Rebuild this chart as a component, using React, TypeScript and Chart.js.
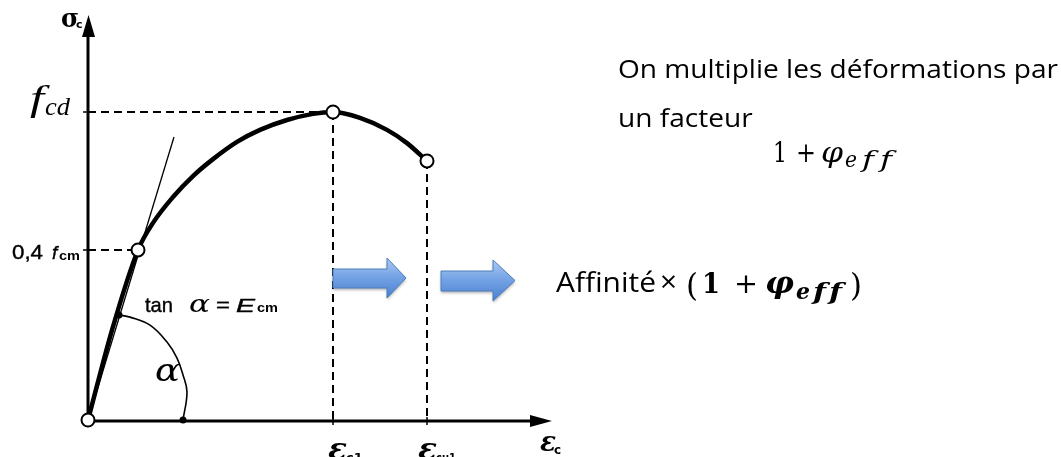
import React, { useEffect, useRef } from "react";
import { Chart, registerables } from "chart.js";

Chart.register(...registerables);

// ---- data (strain in arbitrary units, stress normalised to f_cd = 1) ----
const CURVE_STRAIN = [0, 0.24, 0.5, 0.65, 0.85, 1.05, 1.25, 1.49, 1.72, 1.99, 2.25, 2.45, 2.72, 2.99, 3.19, 3.39];
const CURVE_STRESS = [0, 0.292, 0.552, 0.64, 0.724, 0.792, 0.847, 0.903, 0.942, 0.974, 0.994, 1.0, 0.981, 0.942, 0.899, 0.841];

const TANGENT_STRAIN = [0, 0.86];
const TANGENT_STRESS = [0, 0.919];

const ARC_STRAIN = [0.31, 0.42, 0.62, 0.79, 0.89, 0.95, 0.99, 0.95];
const ARC_STRESS = [0.341, 0.334, 0.308, 0.253, 0.201, 0.146, 0.091, 0];

// key points: origin, 0.4 fcm, (εc1, fcd), (εcu1, σu)
const KEY_STRAIN = [0, 0.5, 2.45, 3.39];
const KEY_STRESS = [0, 0.552, 1.0, 0.841];

// small black dots: on tangent, on strain axis
const DOT_STRAIN = [0.31, 0.95];
const DOT_STRESS = [0.341, 0];

const X_AXIS_END = 4.64;
const Y_AXIS_TOP = 1.315;

const pts = (xs: number[], ys: number[]) => xs.map((x, i) => ({ x, y: ys[i] }));

function txt(ctx: CanvasRenderingContext2D, s: string, x: number, y: number, font: string, w?: number, bold?: number) {
  ctx.font = font;
  ctx.save();
  ctx.translate(x, y);
  if (w) {
    const m = ctx.measureText(s).width;
    ctx.scale(w / m, 1);
  }
  ctx.fillText(s, 0, 0);
  if (bold) {
    ctx.lineWidth = bold;
    ctx.strokeStyle = ctx.fillStyle as string;
    ctx.strokeText(s, 0, 0);
  }
  ctx.restore();
}

function blueArrow(ctx: CanvasRenderingContext2D, x0: number, bTop: number, bBot: number, xh: number, hTop: number, hBot: number, xt: number) {
  ctx.save();
  ctx.beginPath();
  ctx.moveTo(x0, bTop);
  ctx.lineTo(xh, bTop);
  ctx.lineTo(xh, hTop);
  ctx.lineTo(xt, (hTop + hBot) / 2);
  ctx.lineTo(xh, hBot);
  ctx.lineTo(xh, bBot);
  ctx.lineTo(x0, bBot);
  ctx.closePath();
  const g = ctx.createLinearGradient(0, hTop, 0, hBot);
  g.addColorStop(0, "#aecaf2");
  g.addColorStop(0.45, "#76a4e6");
  g.addColorStop(1, "#4a80d0");
  ctx.shadowColor = "rgba(0,0,0,0.3)";
  ctx.shadowBlur = 3;
  ctx.shadowOffsetY = 2;
  ctx.fillStyle = g;
  ctx.fill();
  ctx.shadowColor = "transparent";
  ctx.strokeStyle = "#4a7ebb";
  ctx.lineWidth = 1;
  ctx.stroke();
  ctx.restore();
}

const annot = {
  id: "annot",
  beforeDatasetsDraw(chart: any) {
    const { ctx, scales } = chart;
    const X = (v: number) => scales.x.getPixelForValue(v);
    const Y = (v: number) => scales.y.getPixelForValue(v);
    ctx.save();
    ctx.strokeStyle = "#000";
    ctx.fillStyle = "#000";
    ctx.lineWidth = 3;
    const x0 = X(0);
    const yTop = Y(Y_AXIS_TOP);
    ctx.beginPath();
    ctx.moveTo(x0, Y(0) + 2);
    ctx.lineTo(x0, yTop + 18);
    ctx.stroke();
    ctx.beginPath();
    ctx.moveTo(x0 + 0.5, yTop);
    ctx.lineTo(x0 - 6, yTop + 22);
    ctx.lineTo(x0 + 7, yTop + 22);
    ctx.closePath();
    ctx.fill();
    const ya = Y(0) + 1;
    const xEnd = X(X_AXIS_END);
    ctx.beginPath();
    ctx.moveTo(x0, ya);
    ctx.lineTo(xEnd - 18, ya);
    ctx.stroke();
    ctx.beginPath();
    ctx.moveTo(xEnd, ya);
    ctx.lineTo(xEnd - 22, ya - 6);
    ctx.lineTo(xEnd - 22, ya + 6);
    ctx.closePath();
    ctx.fill();
    ctx.lineWidth = 1.5;
    [KEY_STRESS[2], KEY_STRESS[1]].forEach((v) => {
      ctx.beginPath();
      ctx.moveTo(x0 - 5, Y(v));
      ctx.lineTo(x0, Y(v));
      ctx.stroke();
    });
    [KEY_STRAIN[2], KEY_STRAIN[3]].forEach((v) => {
      ctx.beginPath();
      ctx.moveTo(X(v), ya - 4);
      ctx.lineTo(X(v), ya + 4);
      ctx.stroke();
    });
    ctx.restore();
  },
  afterDatasetsDraw(chart: any) {
    const { ctx } = chart;
    ctx.save();
    blueArrow(ctx, 333, 269, 288, 387, 258, 298, 406);
    blueArrow(ctx, 441, 271, 291, 493, 260, 301, 515);

    ctx.fillStyle = "#000";
    ctx.textBaseline = "alphabetic";
    // scanned-diagram labels
    txt(ctx, "σ", 61, 27, 'bold 26px "DejaVu Serif"', 18);
    txt(ctx, "c", 76, 28, 'bold 11px "DejaVu Sans"');
    txt(ctx, "f", 30, 110, 'italic 36px "Liberation Serif"', 14);
    txt(ctx, "cd", 45, 115, 'italic 26px "Liberation Serif"', 25);
    txt(ctx, "0,4", 12, 259, '20px "Liberation Sans"', 31, 0.4);
    txt(ctx, "f", 52, 259, 'italic 19px "Liberation Sans"', 0, 0.4);
    txt(ctx, "cm", 59, 260, 'bold 13px "Liberation Sans"', 21);
    txt(ctx, "tan", 145, 312, '21px "Liberation Sans"', 28, 0.4);
    txt(ctx, "α", 189, 312, 'italic 25px "DejaVu Serif"', 21);
    txt(ctx, "=", 216, 312, '20px "Liberation Sans"', 14, 0.4);
    txt(ctx, "E", 236, 312, 'italic 19px "Liberation Sans"', 19, 0.4);
    txt(ctx, "cm", 257, 312, 'bold 13px "Liberation Sans"', 21);
    txt(ctx, "α", 155, 381, 'italic 31px "DejaVu Serif"', 25);
    txt(ctx, "ε", 328, 459, 'bold italic 29px "DejaVu Serif"', 19);
    txt(ctx, "c1", 346, 462, 'bold 13px "DejaVu Sans"');
    txt(ctx, "ε", 418, 459, 'bold italic 29px "DejaVu Serif"', 19);
    txt(ctx, "cu1", 436, 462, 'bold 13px "DejaVu Sans"', 20);
    txt(ctx, "ε", 540, 451, 'bold italic 27px "DejaVu Serif"', 16);
    txt(ctx, "c", 554, 454, 'bold 12px "DejaVu Sans"');

    // right-hand text block
    txt(ctx, "On multiplie les déformations par", 618, 78, '25px "Open Sans"', 440);
    ctx.font = '25px "Open Sans"';
    const sx = 440 / ctx.measureText("On multiplie les déformations par").width;
    const w2 = ctx.measureText("un facteur").width * sx;
    txt(ctx, "un facteur", 618, 127, '25px "Open Sans"', w2);
    // 1 + φ_eff
    txt(ctx, "1", 773, 162, '27px "DejaVu Serif"', 14);
    txt(ctx, "+", 796, 162, '27px "DejaVu Serif"', 20);
    txt(ctx, "φ", 821, 162, 'italic 27px "DejaVu Serif"', 22);
    txt(ctx, "e", 845, 167, 'italic 23px "DejaVu Serif"', 12);
    txt(ctx, "f", 862, 167, 'italic 23px "DejaVu Serif"', 12);
    txt(ctx, "f", 880, 167, 'italic 23px "DejaVu Serif"', 12);

    // Affinité × (1 + φ_eff)
    txt(ctx, "Affinité", 556, 292, '27px "Open Sans"', 100);
    txt(ctx, "×", 660, 292, '30px "Open Sans"', 17);
    txt(ctx, "(", 686, 296, '32px "DejaVu Serif"', 12);
    txt(ctx, "1", 702, 293, 'bold 28px "DejaVu Serif"', 18);
    txt(ctx, "+", 734, 293, '28px "DejaVu Serif"', 24);
    txt(ctx, "φ", 765, 293, 'bold italic 29px "DejaVu Serif"', 29);
    txt(ctx, "e", 796, 299, 'bold italic 22px "DejaVu Serif"', 14);
    txt(ctx, "f", 813, 299, 'bold italic 22px "DejaVu Serif"', 13);
    txt(ctx, "f", 829, 299, 'bold italic 22px "DejaVu Serif"', 13);
    txt(ctx, ")", 850, 296, '32px "DejaVu Serif"', 12);
    ctx.restore();
  },
};

export default function App() {
  const ref = useRef<HTMLCanvasElement>(null);
  useEffect(() => {
    const canvas = ref.current!;
    const dash = { borderColor: "#000", borderWidth: 2, borderDash: [8, 5], pointRadius: 0, showLine: true, clip: false as any };
    const chart = new Chart(canvas, {
      type: "scatter",
      data: {
        datasets: [
          {
            data: pts(KEY_STRAIN, KEY_STRESS),
            pointRadius: 6.5,
            pointBackgroundColor: "#fff",
            pointBorderColor: "#000",
            pointBorderWidth: 2,
            showLine: false,
            clip: false as any,
          },
          {
            data: pts(DOT_STRAIN, DOT_STRESS),
            pointRadius: 3.5,
            pointBackgroundColor: "#000",
            pointBorderColor: "#000",
            pointBorderWidth: 0,
            showLine: false,
            clip: false as any,
          },
          {
            data: pts(CURVE_STRAIN, CURVE_STRESS),
            borderColor: "#000",
            borderWidth: 4.5,
            pointRadius: 0,
            showLine: true,
            cubicInterpolationMode: "monotone",
            clip: false as any,
          },
          {
            data: pts(TANGENT_STRAIN, TANGENT_STRESS),
            borderColor: "#000",
            borderWidth: 1.3,
            pointRadius: 0,
            showLine: true,
            clip: false as any,
          },
          {
            data: pts(ARC_STRAIN, ARC_STRESS),
            borderColor: "#000",
            borderWidth: 1.6,
            pointRadius: 0,
            showLine: true,
            tension: 0.4,
            clip: false as any,
          },
          { ...dash, data: [{ x: 0, y: KEY_STRESS[2] }, { x: KEY_STRAIN[2], y: KEY_STRESS[2] }] },
          { ...dash, data: [{ x: 0, y: KEY_STRESS[1] }, { x: KEY_STRAIN[1], y: KEY_STRESS[1] }] },
          { ...dash, data: [{ x: KEY_STRAIN[2], y: KEY_STRESS[2] }, { x: KEY_STRAIN[2], y: 0 }] },
          { ...dash, data: [{ x: KEY_STRAIN[3], y: KEY_STRESS[3] }, { x: KEY_STRAIN[3], y: 0 }] },
        ] as any,
      },
      options: {
        animation: false,
        responsive: false,
        events: [],
        layout: { padding: { left: 88, right: 473, top: 112, bottom: 37 } },
        scales: {
          x: { type: "linear", min: 0, max: 5, display: false },
          y: { type: "linear", min: 0, max: 1, display: false },
        },
        plugins: { legend: { display: false }, tooltip: { enabled: false } },
      },
      plugins: [annot],
    });
    return () => chart.destroy();
  }, []);
  return (
    <div style={{ position: "absolute", left: 0, top: 0, width: 1061, height: 457, background: "#fff" }}>
      <canvas ref={ref} width={1061} height={457} style={{ display: "block", width: 1061, height: 457 }} />
    </div>
  );
}
